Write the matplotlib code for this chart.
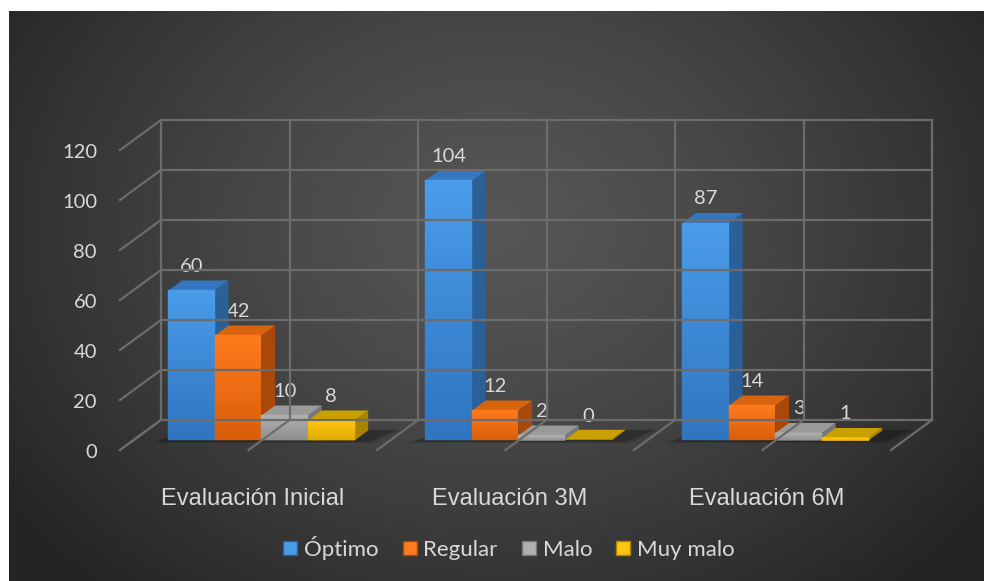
import numpy as np
import matplotlib
matplotlib.use('Agg')
import matplotlib.pyplot as plt
from matplotlib.patches import Polygon, Patch
from matplotlib.colors import to_rgb

# data
categories = ['Evaluación Inicial', 'Evaluación 3M', 'Evaluación 6M']
series = ['Óptimo', 'Regular', 'Malo', 'Muy malo']
optimo = [60, 104, 87]
regular = [42, 12, 14]
malo = [10, 2, 3]
muy_malo = [8, 0, 1]
yticks = [0, 20, 40, 60, 80, 100, 120]

values = [optimo, regular, malo, muy_malo]
# (front top, front bottom, side, top)
colors = [('#4a9ce9', '#2f74bf', '#2a5f98', '#3477c0'),
          ('#ff7b1c', '#d85e0a', '#a9480b', '#d8640e'),
          ('#b0b0b0', '#8e8e8e', '#777777', '#9a9a9a'),
          ('#ffc510', '#e0aa00', '#a88400', '#c9a000')]
txt = '#d9d9d9'

W, H = 984, 581
fig = plt.figure(figsize=(W / 100, H / 100), dpi=100)
fig.patch.set_facecolor('white')

# radial gradient background
bg = fig.add_axes([9 / W, 0, (W - 9) / W, (H - 11) / H])
yy, xx = np.mgrid[0:1:300j, 0:1:500j]
r = np.sqrt(((xx - 0.5) / 0.62) ** 2 + ((yy - 0.38) / 0.85) ** 2)
r = np.clip(r, 0, 1)
c0, c1 = 0x56 / 255, 0x24 / 255
g = c0 + (c1 - c0) * r ** 1.3
bg.imshow(np.dstack([g, g, g]), extent=(0, 1, 1, 0), aspect='auto')
bg.set_xlim(0, 1)
bg.set_ylim(1, 0)
bg.axis('off')

ax = fig.add_axes([120 / W, (H - 450) / H, 771 / W, 300 / H])
ax.set_xlim(-0.5, 2.5)
ax.set_ylim(0, 120)
ax.axis('off')

DEPTH = np.array([41.0, 30.0])


def proj(x, v, d):
    p = ax.transData.transform((x, v))
    return p + d * DEPTH


def poly(pts, **kw):
    p = Polygon(np.array(pts), closed=True, transform=None, **kw)
    fig.add_artist(p)
    return p


def line(a, b):
    fig.add_artist(plt.Line2D([a[0], b[0]], [a[1], b[1]], transform=None,
                              color='#6c6c6c', lw=1.6))


halfs = np.arange(-0.5, 2.51, 0.5)
# back wall + side grid
for v in yticks:
    line(proj(-0.5, v, 1), proj(2.5, v, 1))
    line(proj(-0.5, v, 0), proj(-0.5, v, 1))
for x in halfs:
    line(proj(x, 0, 1), proj(x, 120, 1))
    line(proj(x, 0, 0), proj(x, 0, 1))

bw = 0.181
d0, d1 = 0.317, 0.65

# soft shadows on floor
for ci in range(len(categories)):
    left = ci - 2 * bw
    right = ci + 2 * bw
    for k, al in enumerate([0.08, 0.10, 0.14]):
        e = 0.015 * (2 - k)
        poly([proj(left - 0.03 - e, 0, d0 - 0.05 - e), proj(right + 0.06 + e, 0, d0 - 0.05 - e),
              proj(right + 0.10 + e, 0, d1 + 0.02), proj(left + 0.02, 0, d1 + 0.02)],
             facecolor='black', edgecolor='none', alpha=al)

# bars
nstrip = 30
for ci in range(len(categories)):
    for si, vals in enumerate(values):
        v = vals[ci]
        x0 = ci + (si - 2) * bw
        x1 = x0 + bw
        ctop, cbot, cside, ctopf = colors[si]
        vv = max(v, 0.3)
        # side
        poly([proj(x1, 0, d0), proj(x1, vv, d0), proj(x1, vv, d1), proj(x1, 0, d1)],
             facecolor=cside, edgecolor='none')
        # top
        poly([proj(x0, vv, d0), proj(x1, vv, d0), proj(x1, vv, d1), proj(x0, vv, d1)],
             facecolor=ctopf, edgecolor='none')
        # front with vertical gradient
        if v > 0:
            ca, cb = np.array(to_rgb(cbot)), np.array(to_rgb(ctop))
            edges = np.linspace(0, v, nstrip + 1)
            for k in range(nstrip):
                t = (k + 0.5) / nstrip
                col = ca + (cb - ca) * t
                poly([proj(x0, edges[k], d0), proj(x1, edges[k], d0),
                      proj(x1, edges[k + 1], d0), proj(x0, edges[k + 1], d0)],
                     facecolor=col, edgecolor=col, lw=0.3)
        ax.annotate(str(v), (x0 + bw / 2, v), xytext=d0 * DEPTH + np.array([0, 24]),
                    textcoords='offset pixels', ha='center', va='center',
                    color=txt, fontsize=14.5, family='Lato', annotation_clip=False)

for v in yticks:
    ax.annotate(str(v), (-0.5, v), xytext=(-23, -2), textcoords='offset pixels',
                ha='right', va='center', color=txt, fontsize=14.5, family='Lato',
                annotation_clip=False)

for ci, cat in enumerate(categories):
    ax.annotate(cat, (ci, 0), xytext=(4, -49), textcoords='offset pixels',
                ha='center', va='center', color=txt, fontsize=17,
                family='Liberation Sans', annotation_clip=False)

handles = [Patch(facecolor=c[0], edgecolor=c[2], lw=1) for c in colors]
leg = fig.legend(handles, series, loc='center', bbox_to_anchor=(509 / W, (H - 548) / H),
                 ncol=4, frameon=False, handlelength=0.62, handleheight=0.62,
                 handletextpad=0.3, columnspacing=1.1,
                 prop={'family': 'Lato', 'size': 16})
for t in leg.get_texts():
    t.set_color(txt)

fig.savefig('out.png', dpi=100, facecolor=fig.get_facecolor())
